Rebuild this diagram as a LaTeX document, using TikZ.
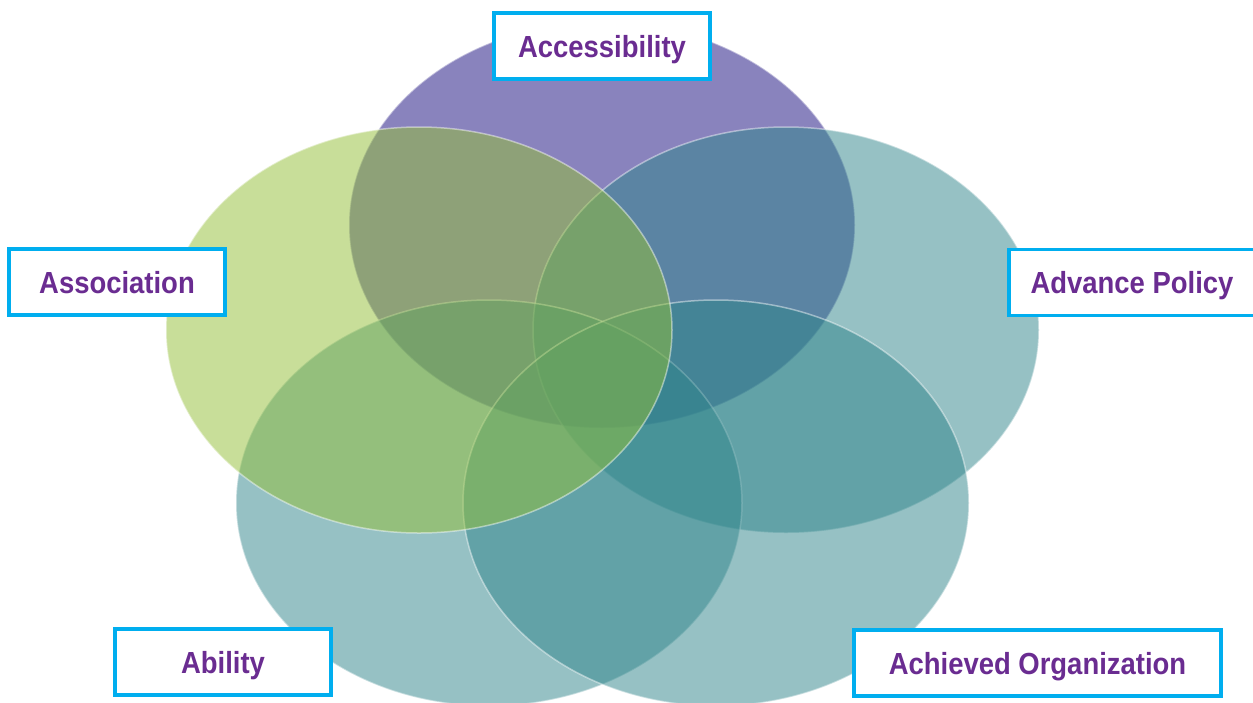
\documentclass[tikz,border=0pt]{standalone}
\usepackage{fontspec}
\newfontfamily\labelfont[FakeStretch=0.9]{Liberation Sans Bold}
\definecolor{vpurple}{RGB}{21,9,125}
\definecolor{vgreen}{RGB}{147,191,53}
\definecolor{vteal}{RGB}{47,133,139}
\definecolor{boxcyan}{RGB}{0,174,239}
\definecolor{txtpurple}{RGB}{106,44,145}
\tikzset{
  venn/.style={fill opacity=0.5, draw=white, draw opacity=0.45, line width=1.5pt},
  lbl/.style={draw=boxcyan, line width=3.5pt, fill=white, minimum height=66pt,
    text=txtpurple, font=\labelfont\fontsize{30.5}{36}\selectfont,
    text height=22pt, text depth=0pt, inner sep=0pt},
}
\begin{document}
\begin{tikzpicture}[x=1pt,y=-1pt]
\useasboundingbox (0,0) rectangle (1253,702);
\fill[white] (0,0) rectangle (1253,702);
% ellipses
\path[venn, fill=vpurple] (602,225) ellipse [x radius=253, y radius=203];
\path[venn, fill=vteal] (786,330) ellipse [x radius=253, y radius=203];
\path[venn, fill=vteal] (489,503) ellipse [x radius=253, y radius=203];
\path[venn, fill=vteal] (716,503) ellipse [x radius=253, y radius=203];
\path[venn, fill=vgreen] (419,330) ellipse [x radius=253, y radius=203];
% labels
\node[lbl, minimum width=216pt] (acc) at (602,46) {Accessibility};
\node[lbl, minimum width=216pt] (ass) at (117,282) {Association};
\node[lbl, minimum width=246pt] (adv) at (1132,282.5) {Advance Policy};
\node[lbl, minimum width=216pt] (abi) at (223,662) {Ability};
\node[lbl, minimum width=367pt] (ach) at (1037.5,663) {Achieved Organization};
\end{tikzpicture}
\end{document}
